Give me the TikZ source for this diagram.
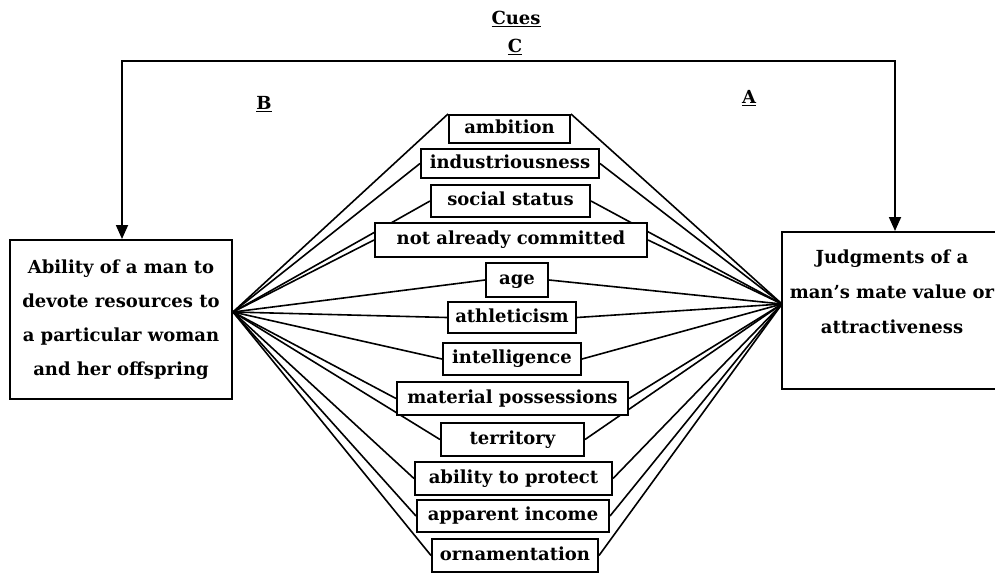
\documentclass[tikz,border=0pt]{standalone}
\usepackage{fontspec}
\setmainfont{DejaVu Serif}
\usetikzlibrary{arrows.meta,backgrounds}
\newcommand\cuefont{\bfseries\fontsize{18}{34}\selectfont}
\newcommand\rightfont{\bfseries\fontsize{18}{35}\selectfont}
\tikzset{
  cue/.style={draw, line width=2pt, fill=white, inner sep=0pt, font=\cuefont,
    text height=13pt, text depth=4pt},
  bigbox/.style={draw, line width=2pt, fill=white, inner sep=0pt, font=\cuefont, align=center},
  link/.style={line width=1.6pt},
  lab/.style={font=\cuefont, inner sep=0pt},
  feedback/.style={line width=1.8pt, {Triangle[length=14pt,width=12pt]}-{Triangle[length=14pt,width=12pt]}}
}
\begin{document}
\begin{tikzpicture}[x=1pt,y=-1pt]
\useasboundingbox (0,0) rectangle (995,574);
% side boxes
\node[bigbox, minimum width=222pt, minimum height=159pt] (L) at (121,319.5)
  {Ability of a man to\\devote resources to\\a particular woman\\and her offspring};
\node[bigbox, minimum width=221pt, minimum height=157pt] (R) at (892.5,310.5) {};
\node[lab, align=center, font=\rightfont] (Rt) at (892,292) {Judgments of a\\man’s mate value or\\attractiveness};
\coordinate (la) at (233,312);
\coordinate (ra) at (782,304);
% cue boxes
\node[cue, minimum width=121pt, minimum height=28pt] (c1) at (509.5,129) {ambition};
\node[cue, minimum width=178pt, minimum height=29pt] (c2) at (510,163.5) {industriousness};
\node[cue, minimum width=159pt, minimum height=32pt] (c3) at (510.5,201) {social status};
\node[cue, minimum width=272pt, minimum height=34pt] (c4) at (511,240) {not already committed};
\node[cue, minimum width=62pt, minimum height=34pt] (c5) at (517,280) {age};
\node[cue, minimum width=128pt, minimum height=31pt] (c6) at (512,317.5) {athleticism};
\node[cue, minimum width=138pt, minimum height=32pt] (c7) at (512,359) {intelligence};
\node[cue, minimum width=231pt, minimum height=33pt] (c8) at (512.5,398.5) {material possessions};
\node[cue, minimum width=143pt, minimum height=33pt] (c9) at (512.5,439.5) {territory};
\node[cue, minimum width=197pt, minimum height=33pt] (c10) at (513.5,478.5) {ability to protect};
\node[cue, minimum width=192pt, minimum height=32pt] (c11) at (513,516) {apparent income};
\node[cue, minimum width=166pt, minimum height=33pt] (c12) at (515,555.5) {ornamentation};
% fan lines
\begin{scope}[on background layer]
  \draw[link] (la) -- (c1.north west);
  \draw[link] (c1.north east) -- (ra);
  \foreach \i in {2,...,12} {
    \draw[link] (la) -- (c\i.west);
    \draw[link] (c\i.east) -- (ra);
  }
\end{scope}
% feedback connector
\coordinate (tl) at (122,61);
\coordinate (tr) at (895,61);
\draw[feedback] (L.north -| tl) -- (tl) -- (tr) -- (R.north -| tr);
% labels
\node[lab] (cues) at (516,19) {\underline{Cues}};
\node[lab] (lc) at (515,47) {\underline{C}};
\node[lab] (lb) at (264,104) {\underline{B}};
\node[lab] (la2) at (749,98) {\underline{A}};
\end{tikzpicture}
\end{document}
